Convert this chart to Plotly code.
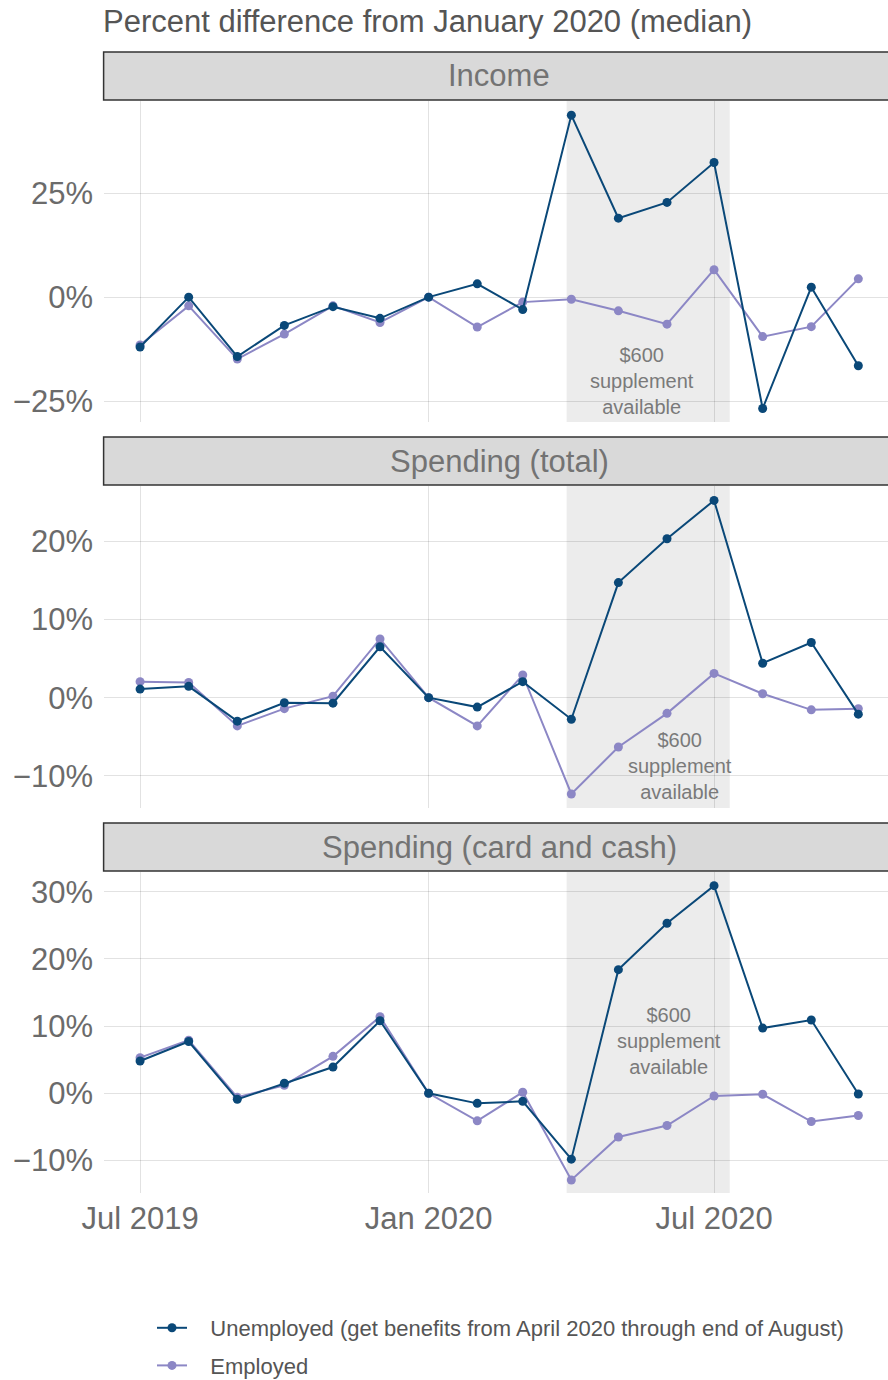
import plotly.graph_objects as go

# ---------------- data ----------------
months = ["2019-07-01", "2019-08-01", "2019-09-01", "2019-10-01", "2019-11-01", "2019-12-01",
          "2020-01-01", "2020-02-01", "2020-03-01", "2020-04-01", "2020-05-01", "2020-06-01",
          "2020-07-01", "2020-08-01", "2020-09-01", "2020-10-01"]

income_unemployed = [-12.0, 0.0, -14.3, -6.8, -2.3, -5.1, 0.0, 3.2, -3.0, 43.8, 19.0, 22.8, 32.4, -26.8, 2.4, -16.5]
income_employed = [-11.5, -2.1, -14.9, -8.9, -2.1, -6.1, 0.0, -7.2, -1.2, -0.5, -3.3, -6.5, 6.6, -9.5, -7.1, 4.4]

total_unemployed = [1.1, 1.45, -3.0, -0.65, -0.7, 6.5, 0.0, -1.2, 2.05, -2.75, 14.7, 20.3, 25.2, 4.4, 7.05, -2.1]
total_employed = [2.05, 1.95, -3.6, -1.4, 0.2, 7.5, 0.0, -3.6, 2.9, -12.3, -6.3, -2.0, 3.1, 0.5, -1.55, -1.4]

card_unemployed = [4.8, 7.7, -0.9, 1.5, 3.9, 10.8, 0.0, -1.5, -1.2, -9.8, 18.4, 25.3, 30.9, 9.7, 10.9, -0.1]
card_employed = [5.3, 7.9, -0.6, 1.2, 5.5, 11.4, 0.0, -4.1, 0.15, -12.9, -6.5, -4.8, -0.4, -0.15, -4.2, -3.3]

panel_titles = ["Income", "Spending (total)", "Spending (card and cash)"]
series_names = ["Unemployed (get benefits from April 2020 through end of August)", "Employed"]

x_tickvals = ["2019-07-01", "2020-01-01", "2020-07-01"]
x_ticktext = ["Jul 2019", "Jan 2020", "Jul 2020"]

y_tickvals = [[-25, 0, 25], [-10, 0, 10, 20], [-10, 0, 10, 20, 30]]
y_ticktext = [["\u221225%", "0%", "25%"],
              ["\u221210%", "0%", "10%", "20%"],
              ["\u221210%", "0%", "10%", "20%", "30%"]]

supplement_start = "2020-03-29"
supplement_end = "2020-07-11"
supplement_label = "$600<br>supplement<br>available"
label_x = ["2020-05-16", "2020-06-09", "2020-06-02"]
label_y = [-20.1, -8.7, 7.8]

# ---------------- style / layout ----------------
W, H = 888, 1380
FONT = "Liberation Sans"
C_UNEMP = "#0a4878"
C_EMP = "#8c87c5"
GRID = "rgba(0,0,0,0.115)"
LEGEND_PAD = "\u00a0\u00a0\u00a0"

def py(px):
    return 1 - px / H

plot_px = [(101, 422), (486, 808), (872, 1193)]
strip_px = [(52, 100), (437, 485), (823, 871)]
y_ranges = [[-30.05, 47.2], [-14.09, 27.04], [-14.84, 32.93]]
x_range = ["2019-06-08", "2020-10-19 22:00"]

panels = [(income_unemployed, income_employed),
          (total_unemployed, total_employed),
          (card_unemployed, card_employed)]

fig = go.Figure()
for i, (unemp, emp) in enumerate(panels):
    xa = "x" if i == 0 else f"x{i+1}"
    ya = "y" if i == 0 else f"y{i+1}"
    fig.add_trace(go.Scatter(x=months, y=emp, mode="lines+markers", name=LEGEND_PAD + series_names[1],
                             line=dict(color=C_EMP, width=2), marker=dict(color=C_EMP, size=9),
                             xaxis=xa, yaxis=ya, showlegend=(i == 0), legendgroup="emp",
                             legendrank=2))
    fig.add_trace(go.Scatter(x=months, y=unemp, mode="lines+markers", name=LEGEND_PAD + series_names[0],
                             line=dict(color=C_UNEMP, width=2), marker=dict(color=C_UNEMP, size=9),
                             xaxis=xa, yaxis=ya, showlegend=(i == 0), legendgroup="unemp",
                             legendrank=1))

layout = dict(
    width=W, height=H,
    margin=dict(l=104, r=0, t=0, b=0, autoexpand=False),
    paper_bgcolor="white", plot_bgcolor="white",
    font=dict(family=FONT, color="#666666"),
    showlegend=True,
    legend=dict(x=(152 - 104) / 784, xanchor="left", y=py(1307), yanchor="top",
                font=dict(size=22, color="#555555"), tracegroupgap=6,
                bgcolor="rgba(0,0,0,0)"),
)

shapes = []
annotations = []
for i in range(3):
    xk = "xaxis" if i == 0 else f"xaxis{i+1}"
    yk = "yaxis" if i == 0 else f"yaxis{i+1}"
    xr = "x" if i == 0 else f"x{i+1}"
    yr = "y" if i == 0 else f"y{i+1}"
    top, bot = plot_px[i]
    layout[xk] = dict(domain=[0, 1], anchor=yr, range=x_range, type="date",
                      tickvals=x_tickvals, ticktext=x_ticktext,
                      showticklabels=(i == 2), showgrid=True, gridcolor=GRID, gridwidth=1.4,
                      zeroline=False, showline=False, ticks="",
                      tickfont=dict(size=31, color="#6b6b6b"), ticklabelstandoff=4,
                      automargin=False)
    if i > 0:
        layout[xk]["matches"] = "x"
    layout[yk] = dict(domain=[py(bot), py(top)], anchor=xr, range=y_ranges[i],
                      tickvals=y_tickvals[i], ticktext=y_ticktext[i],
                      showgrid=True, gridcolor=GRID, gridwidth=1.4,
                      zeroline=False, showline=False, ticks="",
                      tickfont=dict(size=31, color="#6b6b6b"), ticklabelstandoff=10,
                      automargin=False)
    # shaded supplement period
    shapes.append(dict(type="rect", xref=xr, yref=f"{yr} domain", x0=supplement_start,
                       x1=supplement_end, y0=0, y1=1, fillcolor="#ececec",
                       line=dict(width=0), layer="below"))
    # strip header
    s_top, s_bot = strip_px[i]
    shapes.append(dict(type="rect", xref="paper", yref="paper", x0=-0.0005, x1=1.01,
                       y0=py(s_bot), y1=py(s_top), fillcolor="#d9d9d9",
                       line=dict(color="#333333", width=1.5), layer="above"))
    annotations.append(dict(text=panel_titles[i], xref="paper", yref="paper", x=0.5 + 3 / 784,
                            y=py((s_top + s_bot) / 2), xanchor="center", yanchor="middle",
                            showarrow=False, font=dict(size=31, color="#737373")))
    annotations.append(dict(text=supplement_label, xref=xr, yref=yr, x=label_x[i], y=label_y[i],
                            xanchor="center", yanchor="middle", showarrow=False,
                            font=dict(size=20, color="#7a7a7a")))

annotations.append(dict(text="Percent difference from January 2020 (median)", xref="paper",
                        yref="paper", x=0, y=py(22), xanchor="left", yanchor="middle",
                        xshift=-3, showarrow=False, font=dict(size=31, color="#555555")))

layout["shapes"] = shapes
layout["annotations"] = annotations
fig.update_layout(**layout)

fig.write_html("out.html", config={"displayModeBar": False},
               post_script="document.body.style.margin='0';document.body.style.overflow='hidden';")
